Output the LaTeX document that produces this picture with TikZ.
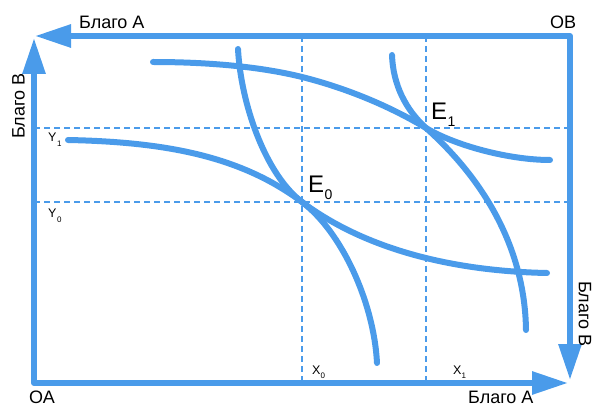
\documentclass[tikz,border=0pt]{standalone}
\usepackage{fontspec}
\setmainfont{Liberation Sans}
\usetikzlibrary{arrows.meta}
\definecolor{bl}{RGB}{74,155,234}
\begin{document}
\begin{tikzpicture}[x=1pt,y=-1pt,
  frame/.style={draw=bl,line width=6pt,line join=round,
     arrows={Triangle[length=36pt,width=22pt]-Triangle[length=36pt,width=22pt]}},
  grid/.style={draw=bl,line width=1.9pt,dash pattern=on 6pt off 4pt},
  curve/.style={draw=bl,line width=6pt,line cap=round},
  lbl/.style={inner sep=0pt,font=\fontsize{18}{18}\selectfont},
  small/.style={inner sep=0pt,font=\fontsize{12.5}{12.5}\selectfont},
  tiny/.style={inner sep=0pt,font=\fontsize{8}{8}\selectfont},
  big/.style={inner sep=0pt,font=\fontsize{24}{24}\selectfont},
  sub/.style={inner sep=0pt,font=\fontsize{14}{14}\selectfont}]
\useasboundingbox (0,0) rectangle (592,406);
% key points
\coordinate (OA) at (34,383);
\coordinate (OB) at (570,36);
\coordinate (Ltip) at (34,38);
\coordinate (Btip) at (568,383);
\coordinate (Ttip) at (35,36);
\coordinate (Rtip) at (570,380);
\coordinate (PE0) at (302,202);
\coordinate (PE1) at (426,128);
% dashed guides
\coordinate (x0t) at (302,36); \coordinate (x0b) at (302,383);
\coordinate (x1t) at (426,36); \coordinate (x1b) at (426,383);
\coordinate (y1l) at (34,128); \coordinate (y1r) at (570,128);
\coordinate (y0l) at (34,202); \coordinate (y0r) at (570,202);
\draw[grid] (x0t) -- (x0b);
\draw[grid] (x1t) -- (x1b);
\draw[grid] (y1l) -- (y1r);
\draw[grid] (y0l) -- (y0r);
% curves
\draw[curve] (68,140) .. controls (168,142) and (242,157) .. (PE0)
   .. controls (362,247) and (447,271) .. (547,273);
\draw[curve] (153,62) .. controls (210,62) and (262,67) .. (302,77)
   .. controls (342,87) and (386,104) .. (PE1)
   .. controls (456,146) and (510,160) .. (550,160);
\draw[curve] (238,49) .. controls (241,105) and (266,175) .. (PE0)
   .. controls (342,232) and (374,303) .. (377,363);
\draw[curve] (392,55) .. controls (393,85) and (406,110) .. (PE1)
   .. controls (490,185) and (525,255) .. (526,330);
% frame
\draw[frame] (Ltip) -- (OA) -- (Btip);
\draw[frame] (Ttip) -- (OB) -- (Rtip);
% labels
\node[lbl,anchor=base west] (lA1) at (79,29) {Благо А};
\node[lbl,anchor=base west] (lOB) at (550,29) {ОВ};
\node[lbl,anchor=base west] (lOA) at (29,403) {ОА};
\node[lbl,anchor=base west] (lA2) at (468,403) {Благо А};
\node[lbl,rotate=90] (lB1) at (18.5,106) {Благо В};
\node[lbl,rotate=-90] (lB2) at (585,314) {Благо В};
\node[small,anchor=base west] (Y1) at (48,142) {Y};
\node[tiny,anchor=base west] (Y1s) at (57,147) {1};
\node[small,anchor=base west] (Y0) at (48,218) {Y};
\node[tiny,anchor=base west] (Y0s) at (57,223) {0};
\node[small,anchor=base west] (X0) at (312,374) {X};
\node[tiny,anchor=base west] (X0s) at (320.5,378) {0};
\node[small,anchor=base west] (X1) at (453,374) {X};
\node[tiny,anchor=base west] (X1s) at (461.5,378) {1};
\node[big,anchor=base west] (E0) at (308,193) {E};
\node[sub,anchor=base west] (E0s) at (324.5,200) {0};
\node[big,anchor=base west] (E1) at (431,120) {E};
\node[sub,anchor=base west] (E1s) at (447.5,127) {1};
\end{tikzpicture}
\end{document}
